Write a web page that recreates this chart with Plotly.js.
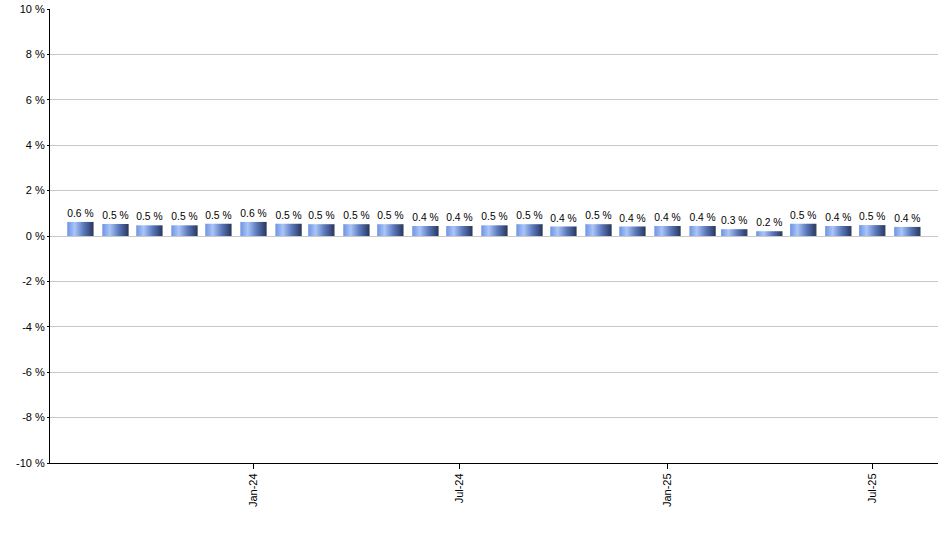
<!DOCTYPE html>
<html>
<head>
<meta charset="utf-8">
<script src="https://cdn.plot.ly/plotly-3.0.1.min.js"></script>
<style>
  html, body { margin: 0; padding: 0; background: #fff; }
  #chart { width: 940px; height: 550px; }
</style>
</head>
<body>
<div id="chart"></div>
<script>
// monthly values, Aug-23 .. Aug-25
const months = [
  "2023-08-01", "2023-09-01", "2023-10-01", "2023-11-01", "2023-12-01",
  "2024-01-01", "2024-02-01", "2024-03-01", "2024-04-01", "2024-05-01",
  "2024-06-01", "2024-07-01", "2024-08-01", "2024-09-01", "2024-10-01",
  "2024-11-01", "2024-12-01", "2025-01-01", "2025-02-01", "2025-03-01",
  "2025-04-01", "2025-05-01", "2025-06-01", "2025-07-01", "2025-08-01"
];
const values = [
  0.62, 0.53, 0.47, 0.47, 0.54,
  0.62, 0.54, 0.52, 0.52, 0.52,
  0.44, 0.44, 0.47, 0.52, 0.42,
  0.52, 0.42, 0.44, 0.44, 0.30,
  0.21, 0.54, 0.44, 0.48, 0.40
];
const yTicks = [-10, -8, -6, -4, -2, 0, 2, 4, 6, 8, 10];
const yTickText = ["-10 %", "-8 %", "-6 %", "-4 %", "-2 %", "0 %", "2 %", "4 %", "6 %", "8 %", "10 %"];
const xTicks = ["2024-01-01", "2024-07-01", "2025-01-01", "2025-07-01"];
const xTickText = ["Jan-24", "Jul-24", "Jan-25", "Jul-25"];

let chart = document.getElementById('chart');

Plotly.newPlot(chart, [
  {
    type: 'bar',
    x: months,
    y: values,
    width: 23.5 * 86400000,
    marker: {
      color: '#7a98dc',
      line: { width: 0 }
    },
    texttemplate: '%{y:.1f} %',
    textposition: 'outside',
    cliponaxis: false,
    textfont: { family: 'Liberation Sans, Arial, sans-serif', size: 11, color: '#000' },
    hoverinfo: 'none'
  }
],
{
  width: 940,
  height: 550,
  margin: { l: 50, r: 2, t: 9, b: 87 },
  paper_bgcolor: '#fff',
  plot_bgcolor: '#fff',
  showlegend: false,
  font: { family: 'Liberation Sans, Arial, sans-serif', size: 11, color: '#000' },
  xaxis: {
    type: 'date',
    range: ['2023-07-05', '2025-08-28'],
    tickmode: 'array',
    tickvals: xTicks,
    ticktext: xTickText,
    tickangle: -90,
    ticks: 'outside',
    ticklen: 5,
    tickcolor: '#000',
    showgrid: false,
    showline: true,
    linecolor: '#000',
    linewidth: 1,
    zeroline: false
  },
  yaxis: {
    range: [-10, 10],
    tickmode: 'array',
    tickvals: yTicks,
    ticktext: yTickText,
    ticks: 'outside',
    ticklen: 2,
    tickcolor: '#000',
    showgrid: true,
    gridcolor: '#c8c8c8',
    zeroline: true,
    zerolinecolor: '#c8c8c8',
    zerolinewidth: 1,
    showline: true,
    linecolor: '#000',
    linewidth: 1
  }
},
{ displayModeBar: false, staticPlot: true }
).then(() => {
  // bars in the original have a cylinder-like horizontal shading
  const svg = chart.querySelector('svg.main-svg');
  const ns = 'http://www.w3.org/2000/svg';
  let defs = svg.querySelector('defs') || svg.insertBefore(document.createElementNS(ns, 'defs'), svg.firstChild);
  const grad = document.createElementNS(ns, 'linearGradient');
  grad.setAttribute('id', 'barGrad');
  grad.setAttribute('x1', '0'); grad.setAttribute('x2', '1');
  grad.setAttribute('y1', '0'); grad.setAttribute('y2', '0');
  [['0%', '#6f93e2'], ['28%', '#a9c5f8'], ['60%', '#5f7cc0'], ['95%', '#2c3d68'], ['100%', '#8a8a8a']].forEach(([o, c]) => {
    const s = document.createElementNS(ns, 'stop');
    s.setAttribute('offset', o);
    s.setAttribute('stop-color', c);
    grad.appendChild(s);
  });
  defs.appendChild(grad);
  chart.querySelectorAll('.bars .point path').forEach(p => {
    p.style.fill = 'url(#barGrad)';
  });
});
</script>
</body>
</html>
